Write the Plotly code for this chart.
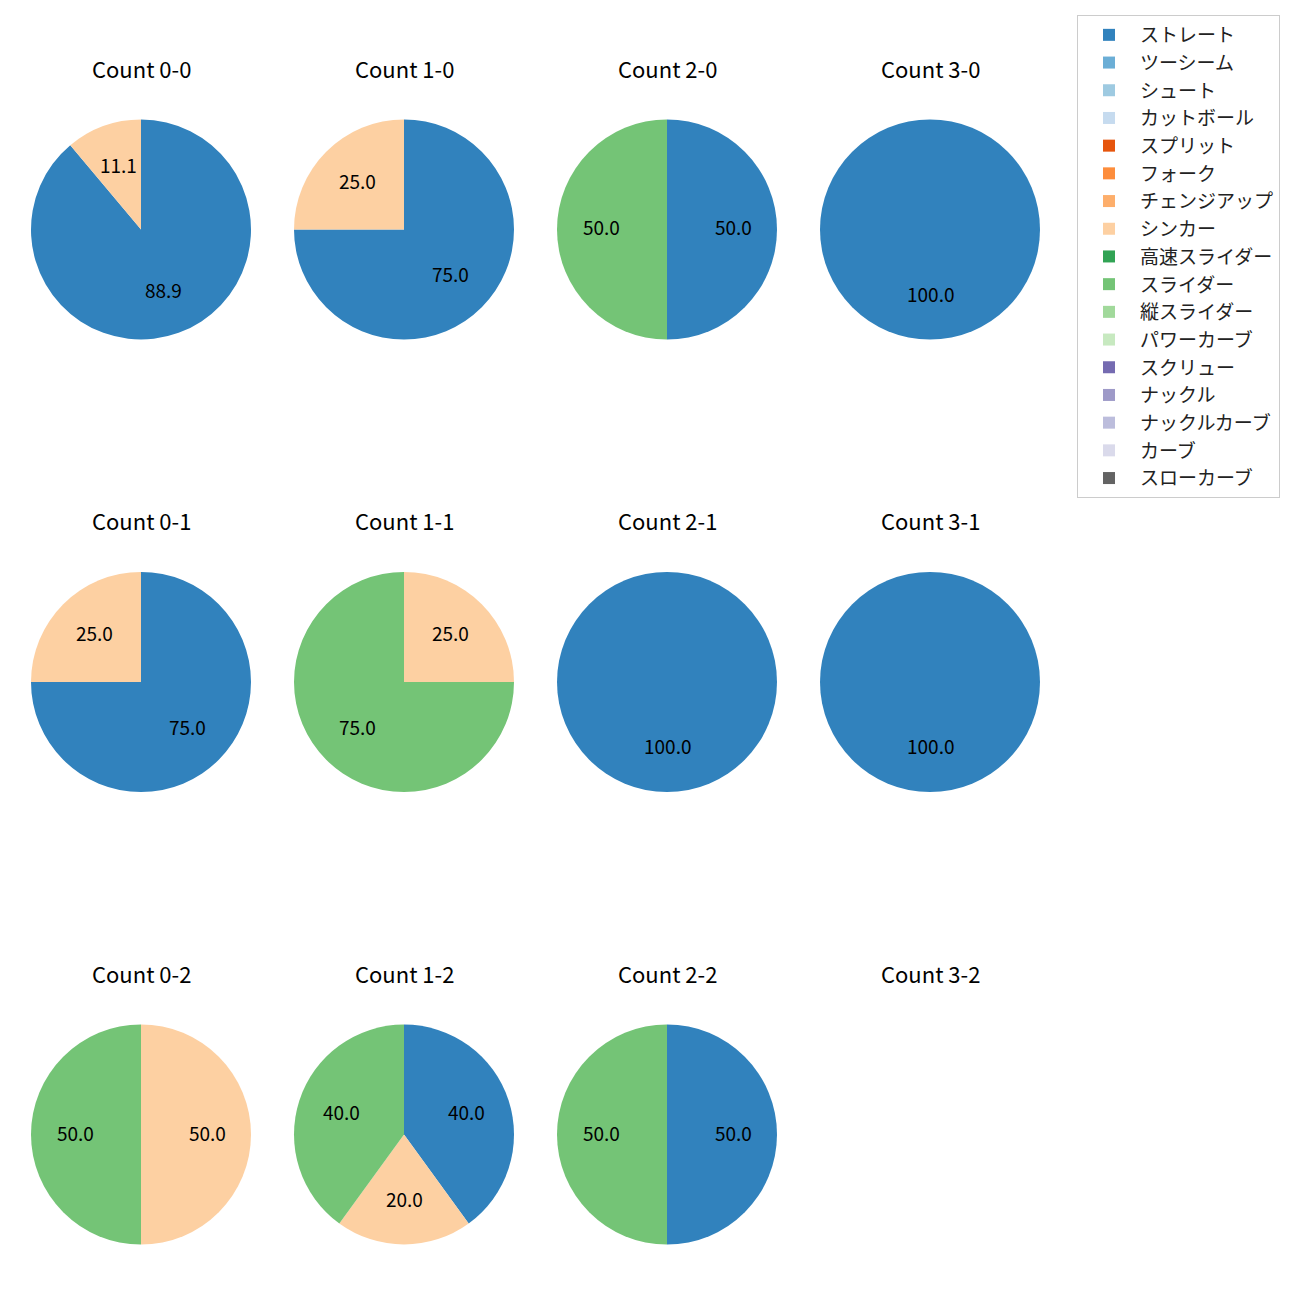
import math
import plotly.graph_objects as go

pitch_types = ["ストレート", "ツーシーム", "シュート", "カットボール", "スプリット", "フォーク",
               "チェンジアップ", "シンカー", "高速スライダー", "スライダー", "縦スライダー",
               "パワーカーブ", "スクリュー", "ナックル", "ナックルカーブ", "カーブ", "スローカーブ"]
colors = ["#3182bd", "#6baed6", "#9ecae1", "#c6dbef", "#e6550d", "#fd8d3c", "#fdae6b", "#fdd0a2",
          "#31a354", "#74c476", "#a1d99b", "#c7e9c0", "#756bb1", "#9e9ac8", "#bcbddc", "#dadaeb",
          "#636363"]

counts = ["0-0", "1-0", "2-0", "3-0",
          "0-1", "1-1", "2-1", "3-1",
          "0-2", "1-2", "2-2", "3-2"]

# pitch counts per ball-strike situation (only nonzero types listed)
pitch_counts = {
    "0-0": {"ストレート": 8, "シンカー": 1},
    "1-0": {"ストレート": 3, "シンカー": 1},
    "2-0": {"ストレート": 1, "スライダー": 1},
    "3-0": {"ストレート": 1},
    "0-1": {"ストレート": 3, "シンカー": 1},
    "1-1": {"シンカー": 1, "スライダー": 3},
    "2-1": {"ストレート": 1},
    "3-1": {"ストレート": 1},
    "0-2": {"シンカー": 1, "スライダー": 1},
    "1-2": {"ストレート": 2, "シンカー": 1, "スライダー": 2},
    "2-2": {"ストレート": 1, "スライダー": 1},
    "3-2": {},
}

W = H = 1300
col_cx = [133, 396, 659, 922]
row_cy = [221.5, 674, 1126.5]
R = 110
title_offset = 162
label_dy = -2.5
FONT = "Noto Sans CJK JP"

fig = go.Figure()
annotations = []
for i, c in enumerate(counts):
    r, col = divmod(i, 4)
    cx, cy = col_cx[col], row_cy[r]
    vals = [pitch_counts[c].get(p, 0) for p in pitch_types]
    fig.add_trace(go.Pie(
        labels=pitch_types, values=vals, sort=False, direction="clockwise", rotation=0,
        marker=dict(colors=colors, line=dict(width=0)),
        textinfo="none", hoverinfo="label+percent",
        domain=dict(x=[(cx - R) / W, (cx + R) / W], y=[1 - (cy + R) / H, 1 - (cy - R) / H]),
        showlegend=True,
    ))
    annotations.append(dict(text=f"Count {c}", x=cx / W, y=1 - (cy - title_offset) / H,
                            xref="paper", yref="paper", showarrow=False,
                            font=dict(size=22, color="black", family=FONT),
                            xanchor="center", yanchor="middle"))
    total = sum(vals)
    start = 0.0
    for v in vals:
        if v <= 0:
            continue
        frac = v / total
        mid = math.radians((start + frac / 2) * 360)
        x = cx + 0.6 * R * math.sin(mid)
        y = cy - 0.6 * R * math.cos(mid) + label_dy
        annotations.append(dict(text=f"{frac * 100:.1f}", x=x / W, y=1 - y / H,
                                xref="paper", yref="paper", showarrow=False,
                                font=dict(size=19, color="black", family=FONT),
                                xanchor="center", yanchor="middle"))
        start += frac

fig.update_layout(
    width=W, height=H, autosize=False,
    margin=dict(l=0, r=0, t=0, b=0),
    paper_bgcolor="white", plot_bgcolor="white",
    font=dict(family=FONT, color="black"),
    annotations=annotations,
    legend=dict(x=1069 / W, y=1 - 7 / H, xanchor="left", yanchor="top",
                bordercolor="#cccccc", borderwidth=1, bgcolor="white", itemwidth=52,
                font=dict(size=19, family=FONT, color="#222222"), traceorder="normal"),
)
fig.write_html("out.html")
